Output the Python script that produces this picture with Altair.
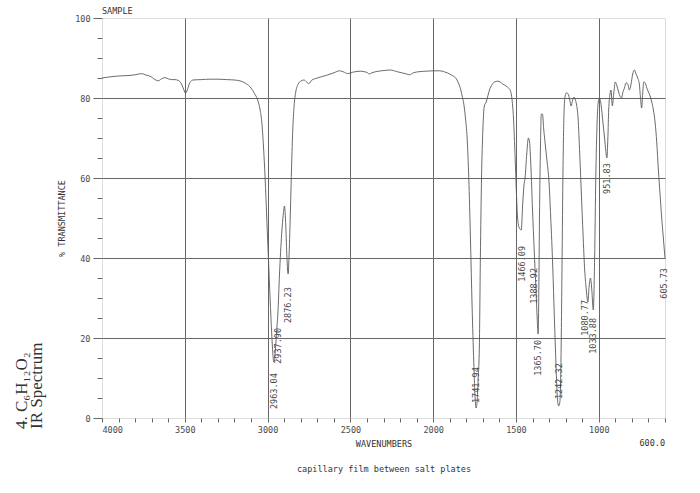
import altair as alt
import pandas as pd

# ---- spectrum trace (wavenumber in cm-1, % transmittance), 14 values per row ----
wavenumber = [
    4000, 3950, 3900, 3850, 3800, 3760, 3740, 3720, 3700, 3680, 3660, 3640, 3620, 3600,
    3580, 3560, 3540, 3520, 3505, 3495, 3485, 3470, 3450, 3400, 3350, 3300, 3250, 3200,
    3160, 3130, 3100, 3080, 3060, 3045, 3035, 3025, 3015, 3005, 2995, 2985, 2975, 2968,
    2963, 2955, 2945, 2938, 2928, 2915, 2905, 2898, 2890, 2883, 2876, 2870, 2862, 2855,
    2848, 2840, 2830, 2815, 2800, 2780, 2765, 2750, 2735, 2700, 2650, 2600, 2565, 2540,
    2517, 2480, 2440, 2400, 2385, 2370, 2330, 2290, 2258, 2220, 2190, 2160, 2143, 2120,
    2080, 2040, 2000, 1960, 1930, 1900, 1880, 1860, 1845, 1835, 1825, 1815, 1805, 1795,
    1785, 1775, 1765, 1755, 1748, 1741, 1735, 1728, 1721, 1715, 1708, 1700, 1691, 1680,
    1670, 1660, 1645, 1630, 1610, 1595, 1580, 1560, 1545, 1535, 1525, 1515, 1505, 1498,
    1490, 1480, 1468, 1460, 1452, 1445, 1435, 1425, 1418, 1410, 1400, 1390, 1380, 1372,
    1366, 1362, 1358, 1352, 1347, 1340, 1332, 1322, 1312, 1302, 1290, 1278, 1268, 1258,
    1250, 1242, 1235, 1228, 1222, 1216, 1210, 1203, 1195, 1185, 1175, 1167, 1158, 1149,
    1141, 1135, 1125, 1115, 1105, 1095, 1085, 1075, 1066, 1058, 1050, 1042, 1033, 1025,
    1018, 1010, 1003, 995, 985, 975, 965, 958, 951, 945, 940, 932, 926, 918,
    910, 900, 890, 880, 870, 862, 855, 845, 835, 825, 815, 805, 795, 785,
    775, 765, 755, 748, 741, 735, 728, 720, 710, 700, 690, 680, 670, 660,
    650, 640, 630, 620, 610, 600,
]
transmittance = [
    85.0, 85.3, 85.5, 85.6, 85.8, 86.1, 85.8, 85.6, 85.2, 84.6, 84.3, 84.8, 85.1, 84.8,
    84.6, 84.6, 84.4, 83.5, 82.0, 81.2, 82.0, 83.8, 84.5, 84.6, 84.7, 84.7, 84.6, 84.5,
    84.2, 83.6, 82.5, 81.2, 79.5, 77.0, 74.0, 68.0, 60.0, 50.0, 40.0, 30.0, 21.0, 16.0,
    14.0, 16.0, 22.0, 26.0, 36.0, 46.0, 51.0, 53.0, 48.0, 40.0, 36.0, 41.0, 52.0, 63.0,
    72.0, 78.0, 81.5, 83.5, 84.2, 84.5, 84.0, 83.6, 84.4, 85.0, 85.6, 86.3, 86.8, 86.5,
    86.1, 86.5, 86.7, 86.4, 86.0, 86.3, 86.7, 86.9, 87.0, 86.6, 86.3, 86.0, 85.8, 86.3,
    86.6, 86.7, 86.8, 86.8, 86.5, 86.0, 85.5, 84.8, 83.5, 82.3, 80.5, 78.5, 75.0, 70.0,
    60.0, 45.0, 28.0, 14.0, 6.0, 2.5, 4.0, 10.0, 18.0, 40.0, 60.0, 72.0, 78.0, 79.0,
    80.5, 82.0, 83.3, 84.0, 84.2, 84.0, 83.5, 83.0, 82.5, 82.0, 80.0, 75.0, 65.0, 57.0,
    50.0, 47.5, 47.0, 53.0, 58.0, 60.0, 66.0, 70.0, 69.0, 63.0, 52.0, 42.0, 33.0, 25.0,
    21.0, 32.0, 50.0, 68.0, 76.0, 76.0, 72.0, 68.0, 64.0, 60.0, 50.0, 38.0, 25.0, 13.0,
    5.0, 3.0, 4.0, 15.0, 38.0, 62.0, 76.0, 80.5, 81.3, 81.0, 79.5, 78.0, 79.5, 80.2,
    79.5, 78.5, 75.0, 66.0, 56.0, 46.0, 37.0, 32.0, 29.0, 33.0, 35.0, 32.0, 27.0, 40.0,
    60.0, 74.0, 79.0, 80.0, 78.0, 74.0, 70.0, 67.0, 65.0, 70.0, 77.0, 81.0, 82.0, 78.0,
    81.0, 84.0, 83.0, 81.5, 80.3, 80.0, 81.3, 82.5, 83.8, 83.5, 82.0, 83.5, 86.0, 87.0,
    86.0, 85.0, 83.5, 80.0, 77.5, 81.0, 84.0, 83.8, 82.5, 81.5, 80.5, 79.0, 77.0, 74.0,
    69.0, 62.0, 56.0, 50.0, 45.0, 40.0,
]

# ---- peak annotations ----
peak_wavenumber = [2963.04, 2937.90, 2876.23, 1741.94, 1466.09, 1388.92,
                   1365.70, 1242.32, 1080.77, 1033.88, 951.83, 605.73]
peak_label_T = [11.2, 22.5, 32.7, 12.7, 43.0, 37.5, 19.5, 13.7, 29.5, 25.0, 63.7, 37.5]
peak_text = ["2963.04", "2937.90", "2876.23", "1741.94", "1466.09", "1388.92",
             "1365.70", "1242.32", "1080.77", "1033.88", "951.83", "605.73"]

x_ticks = list(range(4000, 599, -100))
y_ticks = list(range(0, 101, 5))

MONO = "DejaVu Sans Mono"
INK = "#4a4a4a"

spec = pd.DataFrame({"wn": wavenumber, "T": transmittance})
peaks = pd.DataFrame({"wn": peak_wavenumber, "T": peak_label_T, "label": peak_text})
sample_df = pd.DataFrame({"wn": [4000], "T": [100], "label": ["SAMPLE"]})
end_df = pd.DataFrame({"wn": [600], "T": [0], "label": ["600.0"]})

x_enc = alt.X(
    "wn:Q",
    scale=alt.Scale(domain=[600, 4000], reverse=True, nice=False, zero=False),
    axis=alt.Axis(
        values=x_ticks,
        format="d",
        labelExpr="(datum.value % 500 == 0 && datum.value >= 1000) ? datum.label : ''",
        labelFlush=True,
        labelFont=MONO, labelFontSize=8.5, labelColor=INK, labelPadding=3,
        tickSize=4, tickColor="#666", tickWidth=1,
        grid=True, gridColor="#666", gridWidth=1,
        gridOpacity={"condition": {"test": "datum.value % 500 == 0 && datum.value > 600 && datum.value < 4000", "value": 1}, "value": 0},
        domain=False,
        title=["WAVENUMBERS", "capillary film between salt plates"],
        titleFont=MONO, titleFontSize=8.5, titleFontWeight="normal", titleColor="#333",
        titleLineHeight=25, titlePadding=6,
    ),
)
y_enc = alt.Y(
    "T:Q",
    scale=alt.Scale(domain=[0, 100], nice=False, zero=False),
    axis=alt.Axis(
        values=y_ticks,
        labelExpr="datum.value % 20 == 0 ? datum.label : ''",
        labelFont=MONO, labelFontSize=8.5, labelColor=INK, labelPadding=3,
        tickSize={"condition": {"test": "datum.value % 20 == 0", "value": 9}, "value": 5},
        tickColor="#666", tickWidth=1,
        grid=True, gridColor="#666", gridWidth=1,
        gridOpacity={"condition": {"test": "datum.value % 20 == 0 && datum.value > 0 && datum.value < 100", "value": 1}, "value": 0},
        domain=False,
        title="% TRANSMITTANCE",
        titleFont=MONO, titleFontSize=8.5, titleFontWeight="normal", titleColor="#333",
        titlePadding=8,
    ),
)

line = alt.Chart(spec).mark_line(color="#5a5a5a", strokeWidth=0.9, interpolate="monotone").encode(
    x=x_enc, y=y_enc
)

labels = alt.Chart(peaks).mark_text(
    angle=270, align="right", baseline="middle", font=MONO, fontSize=8.5, color=INK
).encode(x=x_enc, y=y_enc, text="label:N")

sample_text = alt.Chart(sample_df).mark_text(
    font=MONO, fontSize=8.5, color="#333", align="left", baseline="bottom", dy=-2
).encode(x=x_enc, y=y_enc, text="label:N")

end_text = alt.Chart(end_df).mark_text(
    font=MONO, fontSize=8.5, color="#333", align="right", baseline="middle", dy=25
).encode(x=x_enc, y=y_enc, text="label:N")

chart = alt.layer(line, labels, sample_text, end_text).properties(
    width=563,
    height=400,
    autosize=alt.AutoSizeParams(type="none"),
    padding={"left": 102, "top": 18, "right": 35, "bottom": 75},
    title=alt.TitleParams(
        ["4. C₆H₁₂O₂", "IR Spectrum"],
        orient="left", anchor="start",
        font="Liberation Serif", fontSize=17, fontWeight="normal", color="#333",
        lineHeight=15, offset=12, dx=44,
    ),
).configure_view(stroke="#555", strokeWidth=1).configure(background="white")

chart.save("out.html", embed_options={"renderer": "svg", "actions": False})
